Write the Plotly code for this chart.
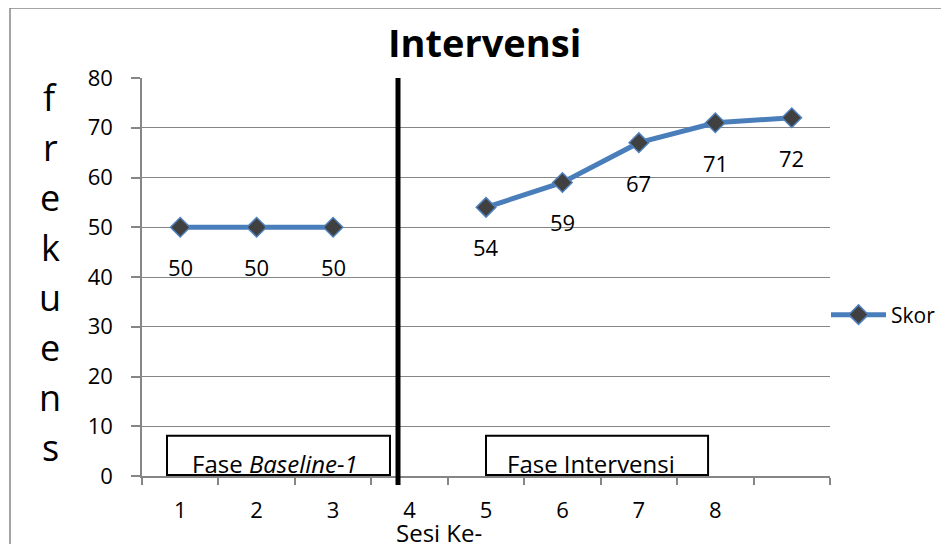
import plotly.graph_objects as go

# ---- data ----
sessions = ["1", "2", "3", "4", "5", "6", "7", "8", " "]
skor = [50, 50, 50, None, 54, 59, 67, 71, 72]
y_ticks = [0, 10, 20, 30, 40, 50, 60, 70, 80]
title_text = "Intervensi"
y_title_letters = ["f", "r", "e", "k", "u", "e", "n", "s"]
x_title = "Sesi Ke-"
series_name = "Skor"
phase_labels = ["Fase <i>Baseline-1</i>", "Fase Intervensi"]

FONT = "Open Sans"
OFF = 8  # page body margin
W, H = 949, 544
ML, MT = 142 - OFF, 78 - OFF
PW, PH = 688, 398
MR, MB = W - ML - PW, H - MT - PH

def py(pix):
    return (MT + PH - (pix - OFF)) / PH

def px(pix):
    return ((pix - OFF) - ML) / PW

fig = go.Figure()
fig.add_trace(go.Scatter(
    x=sessions, y=skor, name=series_name, mode="lines+markers",
    connectgaps=False,
    line=dict(color="#4A7EBB", width=5),
    marker=dict(symbol="diamond", size=15, color="#404040",
                line=dict(color="#4F81BD", width=1.5)),
))

annotations = []
# data labels below points
for i, yv in enumerate(skor):
    if yv is None:
        continue
    annotations.append(dict(x=i, y=yv, xref="x", yref="y", text=str(yv),
                            showarrow=False, yshift=-40, yanchor="middle",
                            font=dict(family=FONT, size=22, color="black")))
# vertical axis title, one letter per line
for i, ch in enumerate(y_title_letters):
    annotations.append(dict(x=px(50), y=py(97 + 50 * i), xref="paper", yref="paper",
                            text=ch, showarrow=False, xanchor="center", yanchor="middle",
                            font=dict(family=FONT, size=36, color="black")))
# x title
annotations.append(dict(x=px(439), y=py(532), xref="paper", yref="paper", text=x_title,
                        showarrow=False, xanchor="center", yanchor="middle",
                        font=dict(family=FONT, size=24, color="black")))
# title
annotations.append(dict(x=px(484), y=py(42), xref="paper", yref="paper",
                        text="<b>" + title_text + "</b>", showarrow=False,
                        xanchor="center", yanchor="middle",
                        font=dict(family=FONT, size=38, color="black")))
# phase labels
annotations.append(dict(x=1.24, y=2.6, xref="x", yref="y", text=phase_labels[0],
                        showarrow=False, xanchor="center", yanchor="middle",
                        font=dict(family=FONT, size=24, color="black")))
annotations.append(dict(x=5.37, y=2.6, xref="x", yref="y", text=phase_labels[1],
                        showarrow=False, xanchor="center", yanchor="middle",
                        font=dict(family=FONT, size=24, color="black")))

shapes = [
    # outer chart frame
    dict(type="rect", xref="paper", yref="paper", x0=px(10), x1=1.3, y0=-0.3, y1=py(8),
         line=dict(color="#868686", width=1.5), layer="below"),
    # phase boxes
    dict(type="rect", xref="x", yref="y", x0=-0.173, x1=2.744, y0=0.2, y1=8.1,
         line=dict(color="black", width=2), fillcolor="white", layer="above"),
    dict(type="rect", xref="x", yref="y", x0=4.0, x1=6.905, y0=0.2, y1=8.1,
         line=dict(color="black", width=2), fillcolor="white", layer="above"),
    # phase separator line
    dict(type="line", xref="x", yref="paper", x0=2.849, x1=2.849, y0=py(485), y1=1.0,
         line=dict(color="black", width=5)),
]

fig.update_layout(
    width=W, height=H,
    margin=dict(l=ML, r=MR, t=MT, b=MB, autoexpand=False),
    paper_bgcolor="white", plot_bgcolor="white",
    font=dict(family=FONT, size=22, color="black"),
    showlegend=True,
    legend=dict(x=px(826), y=py(315), xanchor="left", yanchor="middle",
                itemwidth=55, bgcolor="rgba(0,0,0,0)",
                font=dict(family=FONT, size=21, color="black")),
    annotations=annotations,
    shapes=shapes,
)
fig.update_xaxes(
    type="category", categoryorder="array", categoryarray=sessions,
    range=[-0.5, len(sessions) - 0.5],
    tickson="boundaries", ticks="outside", ticklen=7, tickcolor="#868686", tickwidth=1.5,
    showline=True, linecolor="#868686", linewidth=1.5,
    showgrid=False, zeroline=False, ticklabelstandoff=14,
    tickfont=dict(family=FONT, size=22, color="black"),
)
fig.update_yaxes(
    range=[0, 80], tickvals=y_ticks, ticks="outside", ticklen=9,
    tickcolor="#868686", tickwidth=1.5,
    showline=True, linecolor="#868686", linewidth=1.5,
    showgrid=True, gridcolor="#868686", gridwidth=1.2, zeroline=False,
    ticklabelstandoff=14,
    tickfont=dict(family=FONT, size=22, color="black"),
)

fig.write_html("out.html")
